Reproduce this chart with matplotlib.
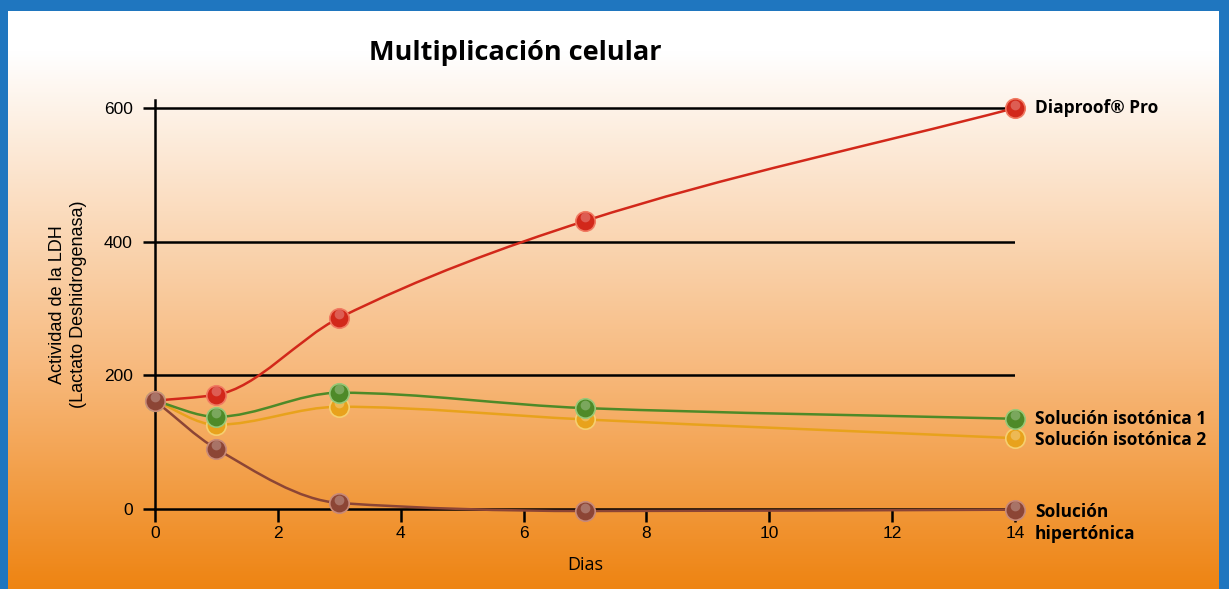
import numpy as np
import matplotlib.pyplot as plt
from matplotlib.path import Path
from matplotlib.patches import PathPatch
from matplotlib import transforms

# data
dias = [0, 1, 3, 7, 14]
diaproof = [162, 171, 286, 431, 600]
isotonica_1 = [162, 138, 174, 151, 135]
isotonica_2 = [162, 126, 153, 134, 106]
hipertonica = [162, 90, 9, -3, -1]

x_ticks = [0, 2, 4, 6, 8, 10, 12, 14]
y_ticks = [0, 200, 400, 600]

series = [
    ('Diaproof® Pro', diaproof, '#d2281a', '#f07a62'),
    ('Solución isotónica 2', isotonica_2, '#e8a21c', '#f6cf70'),
    ('Solución isotónica 1', isotonica_1, '#4e8a28', '#98c878'),
    ('Solución\nhipertónica', hipertonica, '#8c4535', '#c88a78'),
]


def curve_slopes(xs, ys):
    # harmonic-mean slopes inside, secant at both ends
    h = np.diff(xs)
    d = np.diff(ys) / h
    n = len(xs)
    m = np.zeros(n)
    for i in range(1, n - 1):
        if d[i - 1] * d[i] > 0:
            w1 = 2 * h[i] + h[i - 1]
            w2 = h[i] + 2 * h[i - 1]
            m[i] = (w1 + w2) / (w1 / d[i - 1] + w2 / d[i])
    m[0] = d[0]
    m[-1] = d[-1]
    return m


def smooth_path(xs, ys):
    xs = np.asarray(xs, float)
    ys = np.asarray(ys, float)
    m = curve_slopes(xs, ys)
    verts = [(xs[0], ys[0])]
    codes = [Path.MOVETO]
    for i in range(len(xs) - 1):
        h = xs[i + 1] - xs[i]
        verts += [(xs[i] + h / 3, ys[i] + m[i] * h / 3),
                  (xs[i + 1] - h / 3, ys[i + 1] - m[i + 1] * h / 3),
                  (xs[i + 1], ys[i + 1])]
        codes += [Path.CURVE4] * 3
    return Path(verts, codes)


W, H = 1229, 589
fig = plt.figure(figsize=(W / 100, H / 100), dpi=100)
fig.patch.set_facecolor('#1f76bf')

# inner gradient panel
bg = fig.add_axes([8 / W, 0, (1219 - 8) / W, (H - 11) / H])
bg.axis('off')
t = np.linspace(0, 1, 256)
top = np.array([255, 255, 255]) / 255
mid = np.array([247, 185, 125]) / 255
bot = np.array([238, 132, 18]) / 255
cols = []
for v in t:
    if v < 0.07:
        c = top
    elif v < 0.62:
        f = (v - 0.07) / 0.55
        c = top + (mid - top) * f
    else:
        f = (v - 0.62) / 0.38
        c = mid + (bot - mid) * f
    cols.append(c)
grad = np.array(cols)[:, None, :]
bg.imshow(grad, aspect='auto', extent=[0, 1, 0, 1])

ax = fig.add_axes([155 / W, 80 / H, 860 / W, 409 / H])
ax.set_facecolor('none')
ax.set_xlim(0, 14)
ax.set_ylim(0, 612)

for s in ['top', 'right']:
    ax.spines[s].set_visible(False)
for s in ['left', 'bottom']:
    ax.spines[s].set_linewidth(1.8)
    ax.spines[s].set_color('black')
    ax.spines[s].set_zorder(1)

for yv in y_ticks[1:]:
    ax.axhline(yv, color='black', lw=1.8, zorder=1)

ax.set_xticks(x_ticks)
ax.set_yticks(y_ticks)
ax.tick_params(axis='both', direction='out', length=9, width=1.8,
               labelsize=12.5, pad=3)
ax.tick_params(axis='y', pad=7)
for lab in ax.get_xticklabels() + ax.get_yticklabels():
    lab.set_family('Liberation Sans')

ax.set_xlabel('Dias', fontsize=13, family='Open Sans', labelpad=11)
ax.set_ylabel('Actividad de la LDH\n(Lactato Deshidrogenasa)', fontsize=13,
              family='Liberation Sans', labelpad=12, linespacing=1.3)

fig.text(515 / W, 1 - 53 / H, 'Multiplicación celular', ha='center', va='center',
         fontsize=19.5, fontweight='bold', family='Open Sans')

hl = transforms.offset_copy(ax.transData, fig=fig, x=0, y=2.5, units='points')
z = 3
for name, vals, col, light in series:
    ax.add_patch(PathPatch(smooth_path(dias, vals), fill=False, edgecolor=col,
                           lw=1.8, zorder=z, clip_on=False))
    ax.plot(dias, vals, 'o', ms=14, mfc=col, mec=light, mew=1.2,
            zorder=z + 1, clip_on=False)
    ax.plot(dias, vals, 'o', ms=7, mfc='white', mec='none', alpha=0.25,
            zorder=z + 2, clip_on=False, transform=hl)
    z += 3

label_pos = {
    'Diaproof® Pro': 108,
    'Solución isotónica 1': 419,
    'Solución isotónica 2': 440,
    'Solución\nhipertónica': 523,
}
for name, yp in label_pos.items():
    fig.text(1035 / W, 1 - yp / H, name, ha='left', va='center',
             fontsize=12.5, fontweight='bold', family='Open Sans', linespacing=1.35)

fig.savefig('out.png', dpi=100)
